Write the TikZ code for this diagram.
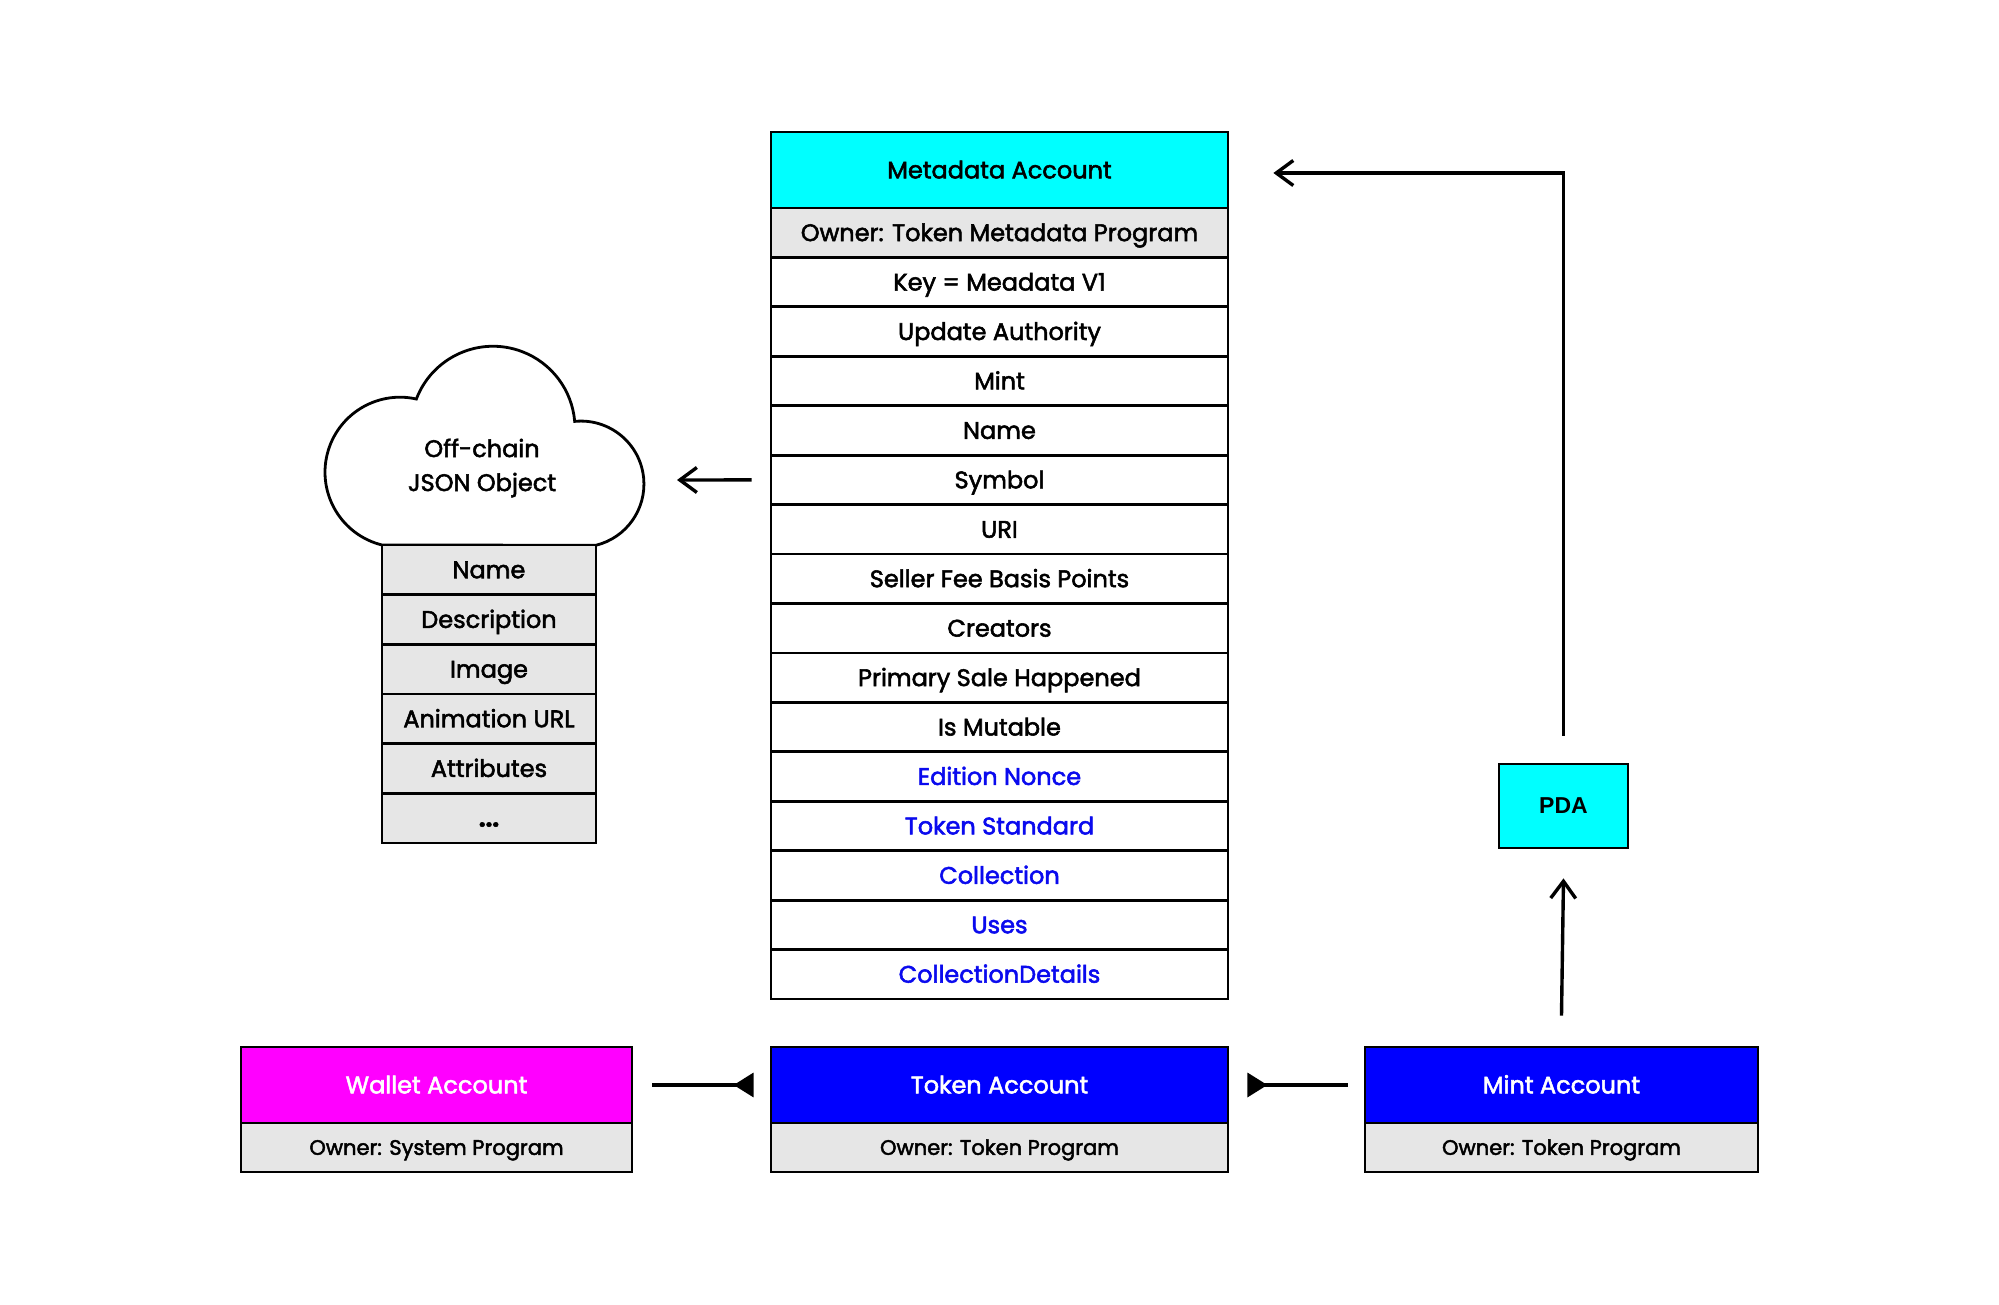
\documentclass[tikz,border=0pt]{standalone}
\usepackage{fontspec}
\setmainfont{Poppins}[RawFeature={embolden=2.2}]
\newfontfamily\pdafont{Liberation Sans}
\usetikzlibrary{arrows.meta}
\definecolor{cyanbox}{HTML}{00FFFF}
\definecolor{bluebox}{HTML}{0000FF}
\definecolor{magbox}{HTML}{FF00FF}
\definecolor{graybox}{HTML}{E6E6E6}
\definecolor{bluetext}{HTML}{0A0AEE}
\newcommand\mythreedots{{\bfseries...}}
\tikzset{
  cell/.style={draw=black, line width=1.4pt, inner sep=0pt, align=center,
    font=\fontsize{12}{14}\selectfont, text height=9.2pt, text depth=0.8pt},
  metarow/.style={cell, minimum width=228.5pt, minimum height=24.72pt},
  headrow/.style={cell, minimum height=38pt},
  subrow/.style={cell, fill=graybox, minimum height=24.5pt, font=\fontsize{10.5}{12}\selectfont,
    text height=8pt, text depth=0.65pt},
  jsonrow/.style={cell, fill=graybox, minimum width=107pt, minimum height=24.83pt},
  conn/.style={line width=1.7pt},
  barb/.style={-{Straight Barb[length=8.5pt,width=12.5pt]}},
  tri/.style={-{Triangle[reversed,length=10pt,width=12pt]}},
}
\begin{document}
\begin{tikzpicture}[x=0.5pt,y=-0.5pt]
\useasboundingbox (0,0) rectangle (1999,1305);

% Metadata account
\node[headrow, fill=cyanbox, minimum width=228.5pt] (mhead) at (999.5,170) {Metadata Account};
\foreach \i/\t/\c/\f in {0/{Owner: Token Metadata Program}/black/graybox,
  1/{Key = Meadata V1}/black/white,
  2/{Update Authority}/black/white,
  3/{Mint}/black/white,
  4/{Name}/black/white,
  5/{Symbol}/black/white,
  6/{URI}/black/white,
  7/{Seller Fee Basis Points}/black/white,
  8/{Creators}/black/white,
  9/{Primary Sale Happened}/black/white,
  10/{Is Mutable}/black/white,
  11/{Edition Nonce}/bluetext/white,
  12/{Token Standard}/bluetext/white,
  13/{Collection}/bluetext/white,
  14/{Uses}/bluetext/white,
  15/{CollectionDetails}/bluetext/white}
  {\node[metarow, fill=\f, text=\c] (meta\i) at (999.5,{208+49.44*(\i+0.5)}) {\t};}

% Cloud
\draw[line width=1.4pt, fill=white] (382,545)
  arc[start angle=103.9, end angle=282.6, radius=75]
  arc[start angle=200.9, end angle=355.2, radius=82]
  arc[start angle=264.3, end angle=436.2, radius=63] -- cycle;
\node[align=center, font=\fontsize{12}{17}\selectfont] (cloud) at (482,468) {Off-chain\\JSON Object};
\coordinate (cloudTip) at (677,480);

% JSON table
\foreach \i/\t in {0/Name,1/Description,2/Image,3/Animation URL,4/Attributes,5/\mythreedots}
  {\node[jsonrow] (json\i) at (489,{545+49.67*(\i+0.5)}) {\t};}

% Bottom accounts
\node[headrow, fill=magbox, text=white, minimum width=195.5pt] (wallet) at (436.5,1085) {Wallet Account};
\node[subrow, minimum width=195.5pt] (walletsub) at (436.5,1147.5) {Owner: System Program};
\node[headrow, fill=bluebox, text=white, minimum width=228.5pt] (token) at (999.5,1085) {Token Account};
\node[subrow, minimum width=228.5pt] (tokensub) at (999.5,1147.5) {Owner: Token Program};
\node[headrow, fill=bluebox, text=white, minimum width=196.5pt] (mint) at (1561.5,1085) {Mint Account};
\node[subrow, minimum width=196.5pt] (mintsub) at (1561.5,1147.5) {Owner: Token Program};

% PDA
\node[draw=black, line width=1.4pt, fill=cyanbox, minimum width=64.5pt, minimum height=42pt,
  inner sep=0pt, font=\pdafont\bfseries\fontsize{11.5}{13}\selectfont] (pda) at (1563.5,806) {PDA};

% Connectors
\draw[conn, barb] ([xshift=-9pt]meta5.west) -- (cloudTip);
\draw[conn, barb] ([yshift=13.5pt]pda.north) |- ([xshift=22pt,yshift=-1.5pt]mhead.east);
\draw[conn, barb] ([yshift=15pt]mint.north) -- ([yshift=-14.5pt]pda.south);
\draw[conn, tri] ([xshift=9.5pt]wallet.east) -- ([xshift=-8pt]token.west);
\draw[conn, tri] ([xshift=-8pt]mint.west) -- ([xshift=9pt]token.east);
\end{tikzpicture}
\end{document}
